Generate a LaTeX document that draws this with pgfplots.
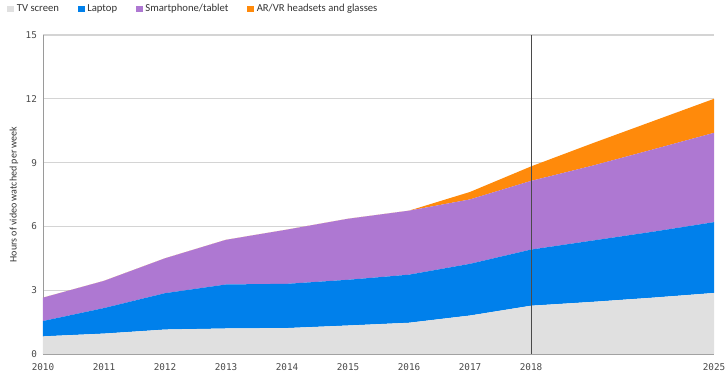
\documentclass[border=0pt]{standalone}
\usepackage{pgfplots}
\pgfplotsset{compat=1.18}
\usepackage{fontspec}
\setmainfont{Carlito}
\setmonofont{DejaVu Sans Mono}
\newfontfamily\tickfont{DejaVu Sans Mono}
\definecolor{tvgray}{HTML}{E0E0E0}
\definecolor{ingblue}{HTML}{0080EB}
\definecolor{ingpurple}{HTML}{AE78D2}
\definecolor{ingorange}{HTML}{FF8A0B}
\definecolor{gridgray}{HTML}{D4D4D4}
\definecolor{axisgray}{HTML}{9A9A9A}
\definecolor{tickgray}{HTML}{4A4A4A}
\definecolor{txt}{HTML}{333333}
\begin{document}
\begin{tikzpicture}
\useasboundingbox (-32.25pt,-19.5pt) rectangle (513.75pt,265.5pt);
\begin{axis}[
  scale only axis, width=503.25pt, height=239.25pt,
  xmin=0, xmax=11, ymin=0, ymax=15,
  xtick={0,1,2,3,4,5,6,7,8,11},
  xticklabels={2010,2011,2012,2013,2014,2015,2016,2017,2018,2025},
  ytick={0,3,6,9,12,15},
  ymajorgrids, major grid style={gridgray, line width=0.8pt},
  major tick length=0pt,
  axis x line*=bottom, axis y line*=left,
  x axis line style={axisgray, line width=1.1pt, -},
  y axis line style={axisgray, line width=0.7pt, -},
  /pgf/number format/assume math mode=true,
  xticklabel style={font=\tickfont\fontsize{7}{8}\selectfont, text=tickgray, yshift=-4pt},
  yticklabel style={font=\tickfont\fontsize{7}{8}\selectfont, text=tickgray, xshift=-1pt},
  ylabel={Hours of video watched per week},
  ylabel style={at={(axis description cs:-0.0432,0.5)}, anchor=center, font=\fontsize{7.5}{9}\selectfont, text=txt},
  stack plots=y,
  legend columns=4,
  legend image code/.code={\fill[#1] (0pt,-2.6pt) rectangle (5.2pt,2.6pt);},
  legend style={draw=none, fill=none, at={(axis description cs:0,1)}, anchor=west, xshift=-27pt, yshift=19.5pt, font=\fontsize{8}{9}\selectfont, text=txt, inner sep=0pt,
    /tikz/every even column/.append style={column sep=12pt},
    /tikz/every odd column/.append style={column sep=0pt}},
]
\addplot[fill=tvgray, draw=none] coordinates {(0,0.83) (1,0.96) (2,1.15) (3,1.20) (4,1.22) (5,1.34) (6,1.47) (7,1.81) (8,2.27) (9,2.45) (10,2.65) (11,2.87)} \closedcycle;
\addlegendentry{TV screen}
\addplot[fill=ingblue, draw=none] coordinates {(0,0.72) (1,1.20) (2,1.71) (3,2.07) (4,2.08) (5,2.15) (6,2.26) (7,2.43) (8,2.64) (9,2.88) (10,3.10) (11,3.33)} \closedcycle;
\addlegendentry{Laptop}
\addplot[fill=ingpurple, draw=none] coordinates {(0,1.10) (1,1.28) (2,1.64) (3,2.10) (4,2.55) (5,2.87) (6,3.01) (7,3.03) (8,3.23) (9,3.52) (10,3.87) (11,4.20)} \closedcycle;
\addlegendentry{Smartphone/tablet}
\addplot[fill=ingorange, draw=none] coordinates {(0,0) (1,0) (2,0) (3,0) (4,0) (5,0) (6,0) (7,0.35) (8,0.68) (9,1.05) (10,1.33) (11,1.60)} \closedcycle;
\addlegendentry{AR/VR headsets and glasses}
\coordinate (vb) at (axis cs:8,0);
\coordinate (vt) at (axis cs:8,15);
\end{axis}
\draw[tickgray, line width=0.7pt] (vb) -- (vt);
\end{tikzpicture}
\end{document}
